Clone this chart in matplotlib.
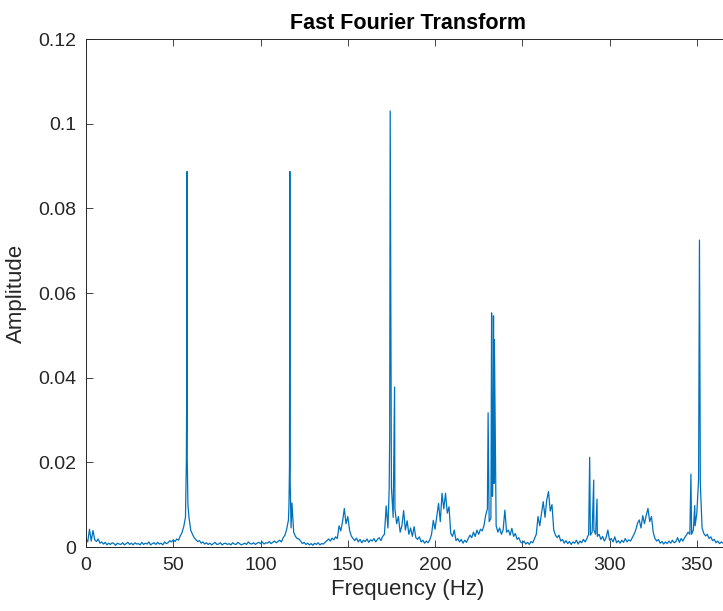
import numpy as np
import matplotlib
matplotlib.use('Agg')
import matplotlib.pyplot as plt
from matplotlib.ticker import FuncFormatter

plt.rcParams['font.family'] = ['Liberation Sans', 'DejaVu Sans']

# spectrum amplitude on a 1 Hz grid (0..369 Hz), in units of 1e-4
grid_amp_e4 = [
    20, 12, 42, 14, 39, 17, 13, 19, 9, 12,
    7, 11, 5, 9, 6, 10, 8, 4, 9, 7,
    6, 10, 5, 8, 11, 6, 9, 5, 10, 7,
    8, 5, 11, 6, 9, 7, 12, 5, 8, 10,
    6, 11, 7, 9, 5, 12, 8, 10, 15, 12,
    17, 13, 19, 16, 26, 34, 48, 70, 210, 70,
    40, 30, 22, 17, 13, 15, 9, 12, 7, 10,
    6, 9, 5, 8, 11, 6, 7, 10, 5, 8,
    9, 6, 8, 5, 10, 7, 6, 11, 8, 5,
    7, 9, 6, 12, 8, 7, 10, 6, 9, 11,
    8, 12, 7, 10, 9, 13, 8, 11, 14, 10,
    13, 16, 12, 22, 28, 42, 64, 150, 104, 35,
    25, 20, 19, 14, 8, 11, 6, 9, 5, 8,
    4, 9, 6, 10, 5, 8, 7, 11, 15, 19,
    14, 21, 17, 24, 20, 50, 38, 60, 91, 55,
    72, 40, 26, 20, 15, 21, 12, 18, 10, 16,
    13, 19, 11, 17, 14, 20, 12, 18, 22, 15,
    25, 30, 97, 45, 260, 140, 70, 90, 55, 72,
    35, 50, 86, 40, 62, 30, 45, 25, 48, 22,
    18, 24, 12, 16, 9, 14, 10, 17, 30, 63,
    42, 72, 103, 60, 127, 90, 127, 80, 95, 32,
    25, 40, 15, 20, 12, 18, 9, 16, 11, 20,
    28, 22, 35, 25, 40, 30, 42, 38, 50, 75,
    90, 60, 68, 120, 490, 50, 35, 45, 30, 40,
    87, 35, 40, 28, 44, 25, 32, 18, 22, 12,
    9, 14, 7, 11, 6, 13, 10, 20, 30, 72,
    50, 80, 107, 70, 111, 131, 85, 100, 40, 28,
    22, 28, 14, 18, 9, 15, 8, 13, 6, 12,
    9, 16, 7, 14, 10, 18, 12, 20, 30, 28,
    35, 40, 30, 25, 30, 18, 25, 14, 22, 40,
    16, 20, 12, 24, 10, 15, 9, 16, 11, 20,
    12, 17, 14, 22, 30, 40, 56, 64, 45, 74,
    55, 75, 91, 60, 72, 35, 20, 14, 18, 9,
    13, 7, 12, 8, 14, 9, 16, 10, 13, 22,
    11, 20, 14, 22, 28, 35, 30, 30, 40, 50,
    80, 160, 150, 45, 32, 26, 30, 20, 24, 15,
    18, 10, 14, 8, 12, 9, 13, 8, 11, 9,
]

# sharp peaks between grid points (Hz, units of 1e-4)
peak_freq = [57.5, 57.7, 57.9, 58.4,
             116.3, 116.6, 116.8, 117.5,
             173.7, 174.3, 176.8,
             230.4, 232.4, 232.7, 233.5, 233.75,
             288.6, 290.9, 292.8,
             346.6, 348.8, 351.5]
peak_amp_e4 = [200, 370, 887, 100,
               100, 190, 887, 45,
               135, 1030, 378,
               317, 553, 120, 546, 150,
               212, 158, 113,
               172, 98, 725]

xticks = [0, 50, 100, 150, 200, 250, 300, 350]
yticks = [0, 0.02, 0.04, 0.06, 0.08, 0.1, 0.12]

freq = np.concatenate([np.arange(len(grid_amp_e4)), peak_freq])
amp = np.concatenate([grid_amp_e4, peak_amp_e4]) * 1e-4
order = np.argsort(freq)
freq = freq[order]
amp = amp[order]

fig = plt.figure(figsize=(7.23, 6.11), dpi=100)
ax = fig.add_axes([86/723, 64/611, 644/723, 508/611])
ax.plot(freq, amp, color='#0072BD', lw=0.9)

ax.set_xlim(0, 369)
ax.set_ylim(0, 0.12)
ax.set_xticks(xticks)
ax.set_yticks(yticks)
ax.yaxis.set_major_formatter(FuncFormatter(lambda v, p: '%g' % v))

dark = '#262626'
ax.tick_params(direction='in', top=True, right=True, length=5, width=0.6,
               labelsize=14, colors=dark, pad=7)
for s in ax.spines.values():
    s.set_color(dark)
    s.set_linewidth(0.7)

ax.set_title('Fast Fourier Transform', fontsize=15.5, fontweight='bold', pad=7)
ax.set_xlabel('Frequency (Hz)', fontsize=16, color=dark, labelpad=4)
ax.set_ylabel('Amplitude', fontsize=16, color=dark, labelpad=8)

fig.savefig('out.png', dpi=100)
